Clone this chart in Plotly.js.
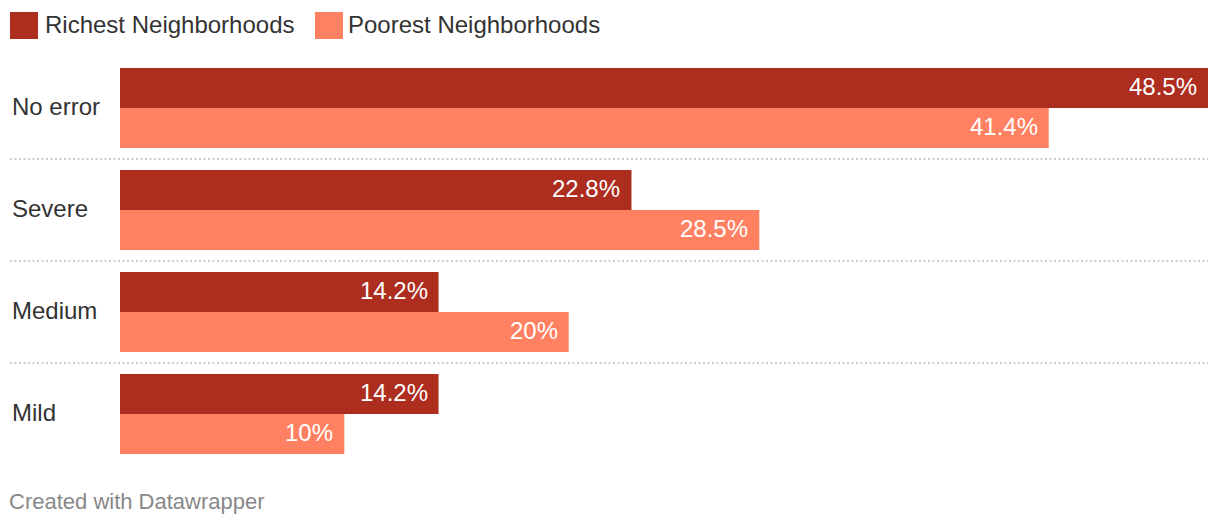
<!DOCTYPE html>
<html>
<head>
<meta charset="utf-8">
<script src="https://cdn.plot.ly/plotly-3.0.1.min.js"></script>
<style>
html,body{margin:0;padding:0;background:#fff;}
#chart{width:1220px;height:528px;}
</style>
</head>
<body>
<div id="chart"></div>
<script>
var categories = ["No error", "Severe", "Medium", "Mild"];
var richest = [48.5, 22.8, 14.2, 14.2];
var poorest = [41.4, 28.5, 20, 10];
var seriesNames = ["Richest Neighborhoods", "Poorest Neighborhoods"];
var seriesColors = ["#ad2d1e", "#ff8161"];
var footerText = "Created with Datawrapper";

var FONT = "Liberation Sans, Arial, Helvetica, sans-serif";
var L = 120, T = 57;

var traces = [
  {type: "bar", orientation: "h", name: seriesNames[0], y: categories, x: richest,
   marker: {color: seriesColors[0]}, hoverinfo: "none"},
  {type: "bar", orientation: "h", name: seriesNames[1], y: categories, x: poorest,
   marker: {color: seriesColors[1]}, hoverinfo: "none"}
];

var annotations = [];
var shapes = [];

function fmt(v){ return String(v) + "%"; }

categories.forEach(function(c, i){
  annotations.push({xref: "x", yref: "y", x: richest[i], y: c, text: fmt(richest[i]),
    xanchor: "right", yanchor: "middle", xshift: -9, yshift: 22, showarrow: false,
    font: {family: FONT, size: 24, color: "#ffffff"}});
  annotations.push({xref: "x", yref: "y", x: poorest[i], y: c, text: fmt(poorest[i]),
    xanchor: "right", yanchor: "middle", xshift: -9, yshift: -18, showarrow: false,
    font: {family: FONT, size: 24, color: "#ffffff"}});
  annotations.push({xref: "paper", yref: "y", x: 0, xshift: 10 - L, y: c, yshift: 2, text: c,
    xanchor: "left", yanchor: "middle", showarrow: false,
    font: {family: FONT, size: 24, color: "#333333"}});
  if (i > 0) {
    shapes.push({type: "line", xref: "paper", yref: "y", x0: -110/1088, x1: 1,
      y0: i - 0.5, y1: i - 0.5, line: {color: "#cccccc", width: 2, dash: "2px,2.5px"}});
  }
});

// legend (manual)
var legendX = [10, 315];
var legendTextX = [43, 346];
seriesNames.forEach(function(n, k){
  shapes.push({type: "rect", xref: "paper", yref: "paper",
    x0: (legendX[k] - L)/1088, x1: (legendX[k] + 28 - L)/1088,
    y0: (465 - 39)/408, y1: (465 - 12)/408,
    line: {width: 0}, fillcolor: seriesColors[k]});
  annotations.push({xref: "paper", yref: "paper", x: 0, xshift: legendTextX[k] - L,
    y: 1, yshift: T - 24, text: n, xanchor: "left", yanchor: "middle", showarrow: false,
    font: {family: FONT, size: 24, color: "#333333"}});
});

annotations.push({xref: "paper", yref: "paper", x: 0, xshift: 7 - L, y: 0, yshift: 465 - 501,
  text: footerText, xanchor: "left", yanchor: "middle", showarrow: false,
  font: {family: FONT, size: 22, color: "#888888"}});

var layout = {
  width: 1220, height: 528,
  margin: {l: L, r: 12, t: T, b: 63, pad: 0},
  paper_bgcolor: "#ffffff", plot_bgcolor: "#ffffff",
  barmode: "group", bargap: 22/102, bargroupgap: 0,
  showlegend: false,
  xaxis: {range: [0, 48.5], showgrid: false, zeroline: false, showticklabels: false,
          showline: false, ticks: "", fixedrange: true},
  yaxis: {type: "category", autorange: "reversed", showgrid: false, zeroline: false,
          showticklabels: false, showline: false, ticks: "", fixedrange: true},
  annotations: annotations,
  shapes: shapes,
  font: {family: FONT}
};

Plotly.newPlot("chart", traces, layout, {displayModeBar: false, staticPlot: true});
</script>
</body>
</html>
